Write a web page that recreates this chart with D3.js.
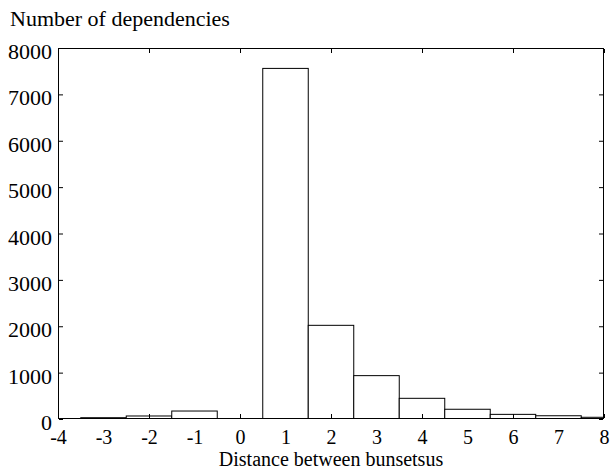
<!DOCTYPE html>
<html>
<head>
<meta charset="utf-8">
<script src="https://cdn.jsdelivr.net/npm/d3@7"></script>
<style>
  body { margin: 0; background: #fff; }
  text { font-family: "Liberation Serif", "Times New Roman", serif; font-size: 20px; fill: #000; }
  .ylab text, text.ytitle { font-size: 22px; }
</style>
</head>
<body>
<script>
// histogram of dependency distances, one bin per integer
var bins = [-3, -2, -1, 0, 1, 2, 3, 4, 5, 6, 7, 8];
var counts = [28, 65, 172, 0, 7560, 2020, 935, 446, 210, 100, 70, 37];
var xLabels = [-4, -3, -2, -1, 0, 1, 2, 3, 4, 5, 6, 7, 8];
var xTicks = [-4, -2, 0, 2, 4, 6, 8];
var yTicks = [0, 1000, 2000, 3000, 4000, 5000, 6000, 7000, 8000];

var width = 613, height = 469;
var pLeft = 58, pRight = 604, pTop = 48, pBottom = 419;

var svg = d3.select('body').append('svg')
  .attr('width', width).attr('height', height);

var x = d3.scaleLinear().domain([-4, 8]).range([pLeft, pRight]);
var y = d3.scaleLinear().domain([0, 8000]).range([pBottom, pTop]);

svg.append('clipPath').attr('id', 'plot')
  .append('rect')
  .attr('x', pLeft).attr('y', pTop)
  .attr('width', pRight - pLeft).attr('height', pBottom - pTop);

var data = bins.map(function(b, i) { return {bin: b, n: counts[i]}; })
  .filter(function(d) { return d.n > 0; });

// bars
svg.append('g').attr('clip-path', 'url(#plot)')
  .selectAll('rect').data(data).enter().append('rect')
  .attr('x', function(d) { return x(d.bin - 0.5); })
  .attr('width', function(d) { return x(d.bin + 0.5) - x(d.bin - 0.5); })
  .attr('y', function(d) { return y(d.n); })
  .attr('height', function(d) { return pBottom - y(d.n); })
  .attr('fill', '#fff')
  .attr('stroke', '#000')
  .attr('stroke-width', 1);

// frame
svg.append('rect')
  .attr('x', pLeft + 0.5).attr('y', pTop + 0.5)
  .attr('width', pRight - pLeft - 1).attr('height', pBottom - pTop - 1)
  .attr('fill', 'none').attr('stroke', '#000').attr('stroke-width', 1);

function clean(g) {
  g.select('.domain').remove();
  g.selectAll('.tick line').attr('stroke', '#000');
  g.selectAll('text').attr('font-family', null).attr('font-size', null);
}

// bottom: labels on every integer, ticks on even ones
svg.append('g').attr('transform', 'translate(0,' + pBottom + ')')
  .call(d3.axisBottom(x).tickValues(xLabels).tickSize(0).tickPadding(11).tickFormat(String))
  .call(clean);
svg.append('g').attr('transform', 'translate(0,' + (pBottom - 1) + ')')
  .call(d3.axisBottom(x).tickValues(xTicks).tickSize(-4).tickFormat(''))
  .call(clean);
svg.append('g').attr('transform', 'translate(0,' + (pTop + 1) + ')')
  .call(d3.axisTop(x).tickValues(xTicks).tickSize(-4).tickFormat(''))
  .call(clean);

// left and right
svg.append('g').attr('class', 'ylab').attr('transform', 'translate(' + (pLeft + 1) + ',0)')
  .call(d3.axisLeft(y).tickValues(yTicks).tickSize(-4).tickPadding(7).tickFormat(String))
  .call(clean)
  .selectAll('text').attr('dy', '0.48em');
svg.append('g').attr('transform', 'translate(' + (pRight - 1) + ',0)')
  .call(d3.axisRight(y).tickValues(yTicks).tickSize(-4).tickFormat(''))
  .call(clean);

// titles
svg.append('text').attr('class', 'ytitle').attr('x', 10).attr('y', 26)
  .text('Number of dependencies');
svg.append('text').attr('x', (pLeft + pRight) / 2).attr('y', 466)
  .attr('text-anchor', 'middle')
  .text('Distance between bunsetsus');
</script>
</body>
</html>
